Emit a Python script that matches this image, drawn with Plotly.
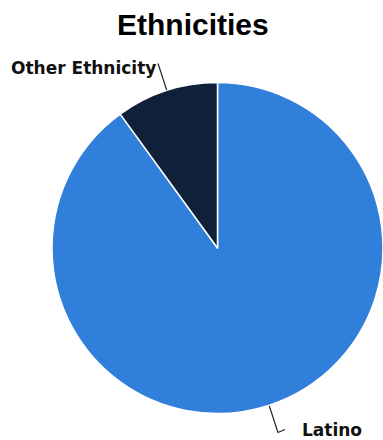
import math
import plotly.graph_objects as go

labels = ["Latino", "Other Ethnicity"]
values = [90, 10]
colors = ["#2f7fdb", "#0f2038"]
title = "Ethnicities"

W, H = 383, 440
cx, cy, R = 218, 248, 166  # pixel geometry of pie domain

fig = go.Figure(go.Pie(
    labels=labels, values=values, sort=False, direction="clockwise", rotation=0,
    marker=dict(colors=colors, line=dict(color="white", width=1.5)),
    textinfo="none", hoverinfo="label+percent", showlegend=False,
    domain=dict(x=[(cx - R) / W, min(1, (cx + R) / W)], y=[1 - (cy + R) / H, 1 - (cy - R) / H]),
))

def px2paper(x, y):
    return x / W, 1 - y / H

total = sum(values)
cum = 0
shapes, annots = [], []
for lab, v in zip(labels, values):
    mid = (cum + v / 2) / total * 2 * math.pi
    cum += v
    sx, sy = math.sin(mid), -math.cos(mid)
    x0, y0 = cx + R * sx, cy + R * sy
    x1, y1 = cx + (R + 28) * sx, cy + (R + 28) * sy
    pts = [(x0, y0), (x1, y1)]
    if sx >= 0:
        x2, y2 = x1 + 7, y1 - 3
        pts.append((x2, y2))
        tx, anchor = x2 + 15, "left"
        ty = y1 - 3
    else:
        tx, anchor = x1, "right"
        ty = y1 + 5
    for (ax, ay), (bx, by) in zip(pts[:-1], pts[1:]):
        pa, pb = px2paper(ax, ay), px2paper(bx, by)
        shapes.append(dict(type="line", xref="paper", yref="paper",
                           x0=pa[0], y0=pa[1], x1=pb[0], y1=pb[1],
                           line=dict(color="#222222", width=1.2)))
    tp = px2paper(tx, ty)
    annots.append(dict(x=tp[0], y=tp[1], xref="paper", yref="paper", text=f"<b>{lab}</b>",
                       showarrow=False, xanchor=anchor, yanchor="middle",
                       font=dict(family="DejaVu Sans", size=17, color="#111111")))

annots.append(dict(x=0.505, y=1 - 25 / H, xref="paper", yref="paper", text=f"<b>{title}</b>",
                   showarrow=False, xanchor="center", yanchor="middle",
                   font=dict(family="Liberation Sans, Arial", size=30, color="#000000")))

fig.update_layout(width=W, height=H, margin=dict(l=0, r=0, t=0, b=0),
                  paper_bgcolor="white", plot_bgcolor="white",
                  shapes=shapes, annotations=annots)
fig.write_html("out.html", config={"displayModeBar": False},
               post_script="document.body.style.margin='0';document.body.style.overflow='hidden';")
